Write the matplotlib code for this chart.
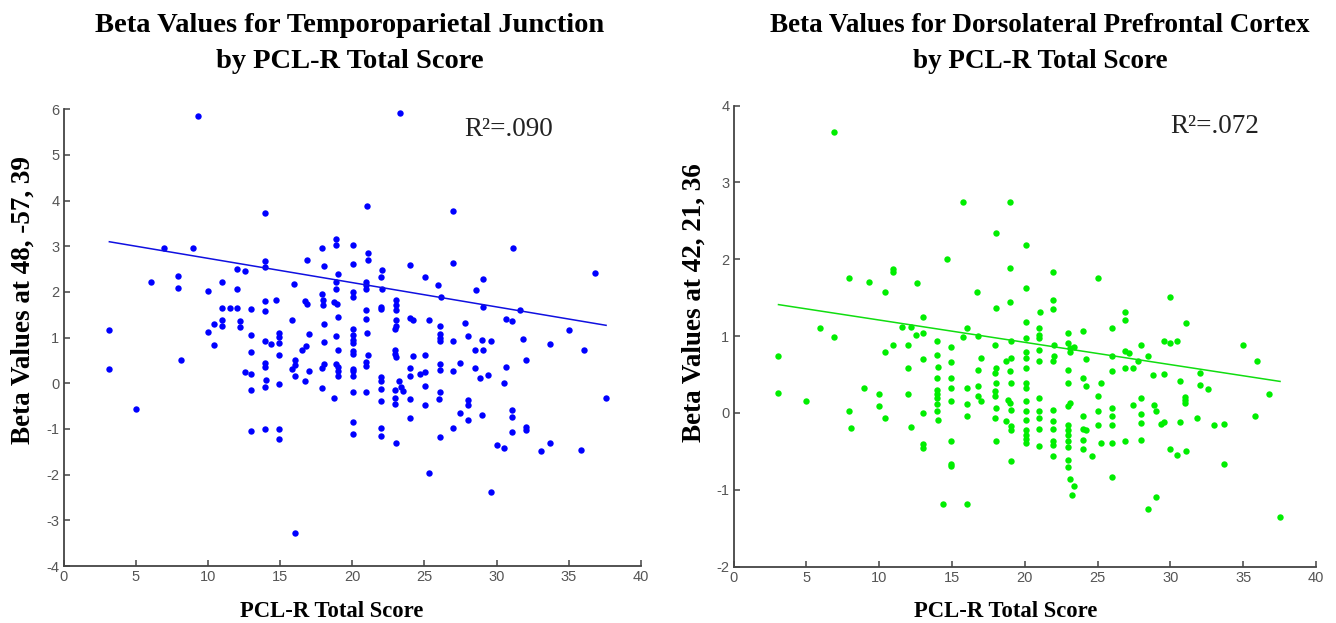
import numpy as np
import matplotlib
matplotlib.use("Agg")
import matplotlib.pyplot as plt

plt.rcParams["axes.unicode_minus"] = False

# --- data ----------------------------------------------------------------
# left panel: temporoparietal junction (48, -57, 39)
tpj_x = [9.32, 13.96, 6.93, 8.95, 6.03, 7.94, 7.94, 10.0, 10.98, 12.0, 12.58, 12.0,
         13.96, 13.96, 13.96, 13.96, 14.68, 13.0, 10.98, 11.54, 12.0, 10.45, 10.98,
         10.98, 12.2, 12.2, 15.83, 15.99, 16.84, 17.93, 18.02, 18.9, 18.9, 20.05,
         20.05, 19.01, 18.9, 18.9, 20.05, 20.05, 16.75, 16.84, 17.93, 17.97, 17.97,
         18.76, 18.94, 19.01, 18.02, 3.17, 20.05,
         3.17, 5.01, 8.12, 9.97, 10.43, 13.0, 13.0, 12.55, 13.0, 13.0, 13.0, 13.96,
         14.4, 13.96, 13.96, 14.05, 13.96, 13.96, 14.95, 14.95, 14.95, 14.95, 14.95,
         14.95, 14.95, 16.0, 16.0, 15.83, 16.0, 16.0, 16.52, 16.82, 17.0, 16.75, 17.0,
         18.02, 18.02, 17.93, 17.93, 18.76, 18.9, 19.01, 18.9, 19.01, 19.01, 19.01,
         20.05, 20.05, 20.05, 20.05, 20.05, 20.05, 20.05, 20.05, 20.05, 20.05, 20.05,
         23.28, 21.0, 26.97, 31.12, 36.84, 21.08, 21.08, 24.02, 22.06, 21.96, 20.97,
         20.97, 20.97, 22.08, 25.05, 27.01, 25.97, 26.16, 29.02, 28.56, 29.02, 31.62,
         23.05, 23.05, 23.05, 21.96, 21.96, 20.97, 20.97, 23.05, 23.05, 23.97, 24.2,
         25.31, 26.05, 27.82, 30.66, 31.03, 35.0,
         21.0, 21.08, 20.97, 20.97, 20.97, 22.93, 22.93, 22.93, 23.05, 24.2, 25.06,
         26.05, 26.05, 26.05, 26.97, 28.01, 29.0, 29.58, 28.5, 29.05, 31.86, 33.71,
         36.04, 37.58, 22.0, 22.0, 22.0, 22.0, 22.0, 22.0, 22.93, 22.93, 22.93, 23.21,
         23.4, 23.51, 23.0, 24.02, 24.02, 24.02, 24.02, 24.66, 25.06, 25.06, 25.06,
         25.31, 26.05, 26.05, 26.05, 25.98, 26.05, 26.97, 27.43, 26.97, 27.43, 28.01,
         28.01, 28.01, 28.5, 28.86, 29.39, 29.0, 29.58, 30.02, 30.48, 30.48, 30.66,
         31.03, 31.03, 31.03, 32.05, 32.05, 32.05, 33.06, 33.71, 35.85]
tpj_y = [5.86, 3.74, 2.97, 2.97, 2.21, 2.35, 2.09, 2.03, 2.21, 2.50, 2.47, 2.06,
         2.68, 2.55, 1.80, 1.58, 1.83, 1.62, 1.65, 1.65, 1.65, 1.30, 1.39,
         1.25, 1.36, 1.23, 1.38, 2.18, 2.71, 2.97, 2.56, 3.16, 3.03, 3.03,
         2.62, 2.39, 2.21, 2.06, 2.0, 1.89, 1.80, 1.74, 1.95, 1.83, 1.71,
         1.77, 1.74, 1.45, 1.29, 1.17, 1.19,
         0.32, -0.56, 0.51, 1.12, 0.83, 1.06, 0.68, 0.24, 0.21, -0.14, -1.05, 0.92,
         0.87, 0.44, 0.35, 0.07, -0.09, -1.0, 1.10, 1.01, 0.88, 0.62, -0.01,
         -1.0, -1.23, 0.50, 0.40, 0.31, 0.15, -3.28, 0.72, 0.81, 0.28, 0.04, 1.09,
         0.90, 0.42, 0.33, -0.11, -0.32, 1.03, 0.73, 0.42, 0.35, 0.26, 0.17,
         1.05, 0.94, 0.88, 0.70, 0.65, 0.32, 0.26, 0.16, -0.20, -0.84, -1.11,
         5.91, 3.88, 3.77, 2.97, 2.42, 2.86, 2.71, 2.59, 2.48, 2.33, 2.22,
         2.15, 2.07, 2.06, 2.33, 2.64, 2.15, 1.89, 2.29, 2.04, 1.68, 1.60,
         1.82, 1.71, 1.60, 1.68, 1.63, 1.60, 1.41, 1.38, 1.25, 1.44, 1.39,
         1.39, 1.25, 1.33, 1.41, 1.36, 1.17,
         1.10, 0.61, 0.46, 0.39, -0.20, 1.18, 0.72, 0.65, 0.58, 0.59, 0.62,
         1.07, 1.00, 0.92, 0.92, 1.03, 0.94, 0.92, 0.74, 0.74, 0.98, 0.86,
         0.74, -0.32, 0.13, 0.06, -0.12, -0.38, -0.97, -1.15, -0.15, -0.32, -0.45, 0.06,
         -0.09, -0.16, -1.30, 0.33, 0.15, -0.35, -0.76, 0.21, 0.24, -0.05, -0.47,
         -1.96, 0.43, 0.29, -0.20, -0.35, -1.17, 0.28, 0.45, -0.97, -0.64, -0.36,
         -0.47, -0.80, 0.33, 0.12, 0.18, -0.70, -2.37, -1.35, -1.41, 0.01, 0.35,
         -0.59, -0.73, -1.06, 0.51, -0.95, -1.02, -1.49, -1.30, -1.46]
tpj_fit_x = [3.17, 37.58]
tpj_fit_y = [3.10, 1.27]
tpj_r2 = "R\u00b2=.090"

# right panel: dorsolateral prefrontal cortex (42, 21, 36)
dlpfc_x = [6.89, 15.79, 18.97, 18.05, 20.07, 14.67, 18.97, 7.92, 9.30, 10.96, 10.96,
           12.57, 10.41, 16.74, 20.07, 18.97, 18.05, 20.07, 13.03, 5.97, 11.54, 12.18,
           16.0,
           6.89, 3.09, 3.09, 4.98, 7.92, 8.09, 8.96, 10.0, 10.0, 10.41, 10.41, 10.96,
           12.0, 12.0, 12.0, 12.18, 12.55, 13.03, 13.03, 13.03, 13.03, 13.03, 13.95,
           13.95, 14.02, 13.95, 13.95, 13.95, 13.95, 13.95, 13.95, 14.07, 14.41, 14.94,
           14.94, 14.94, 14.94, 14.94, 14.94, 14.94, 14.94, 15.79, 16.0, 16.0, 16.0,
           16.0, 16.78, 17.01, 16.78, 16.78, 16.78, 17.01, 17.98, 18.05, 17.98, 18.05,
           17.98, 17.98, 18.05, 17.93, 18.05, 18.74, 19.04, 18.97, 19.04, 18.86, 18.97,
           19.04, 18.74, 19.04, 19.04, 19.08, 19.08, 20.07, 20.07, 20.07, 20.07, 20.07,
           20.07, 20.07, 20.07, 20.07, 20.07, 20.07, 20.07, 20.07,
           21.94, 25.0, 21.94, 21.03, 21.94, 29.99, 26.9,
           20.96, 20.96, 20.96, 20.96, 20.96, 20.96, 20.96, 20.96, 20.96, 20.96,
           21.99, 21.99, 21.94, 21.94, 21.94, 21.94, 21.94, 21.94, 21.94,
           23.98, 22.95, 22.95, 23.13, 23.41, 23.13, 22.95, 22.95, 23.13, 22.95, 22.95,
           22.95, 22.95, 22.95, 22.95, 22.95, 22.95, 23.13, 23.41, 23.25,
           24.18, 23.98, 24.18, 23.98, 23.98, 24.18, 23.98, 23.98, 24.64,
           25.0, 25.0, 25.0, 25.26, 25.26, 26.01, 26.01, 26.01, 26.01, 26.01, 26.01,
           26.01, 26.01, 26.9, 26.9, 27.13, 26.9, 27.4, 27.4, 26.9, 27.75, 27.98, 27.98,
           27.98, 27.98, 27.98, 28.43, 28.8, 28.89, 29.0, 29.37, 29.53, 29.0, 28.43,
           29.53, 29.53, 29.99, 30.45, 29.99, 30.45, 31.09, 31.09, 30.63, 30.97, 30.97,
           30.97, 30.63, 31.82, 32.05, 32.05, 32.57, 33.03, 33.69, 33.69, 34.97, 35.98,
           35.82, 36.8, 37.53]
dlpfc_y = [3.66, 2.75, 2.75, 2.34, 2.19, 2.0, 1.89, 1.75, 1.71, 1.87, 1.84,
           1.69, 1.57, 1.58, 1.63, 1.44, 1.37, 1.19, 1.25, 1.10, 1.12, 1.12,
           1.10,
           0.99, 0.74, 0.26, 0.16, 0.03, -0.20, 0.33, 0.25, 0.09, -0.07, 0.79, 0.89,
           0.89, 0.58, 0.25, -0.18, 1.02, 1.04, 0.70, 0.0, -0.40, -0.46, 0.93,
           0.76, 0.60, 0.46, 0.30, 0.25, 0.19, 0.11, 0.03, -0.09, -1.18, 0.86,
           0.66, 0.46, 0.32, 0.16, -0.37, -0.66, -0.69, 0.99, 0.32, 0.12, -0.04,
           -1.18, 1.0, 0.72, 0.56, 0.35, 0.22, 0.16, 0.89, 0.58, 0.52, 0.39,
           0.28, 0.22, 0.07, -0.06, -0.37, 0.67, 0.72, 0.54, 0.39, 0.17, 0.13,
           0.04, -0.11, -0.17, -0.22, -0.63, 0.94, 0.97, 0.79, 0.72, 0.58, 0.39,
           0.32, 0.15, 0.02, -0.09, -0.22, -0.29, -0.34, -0.39,
           1.84, 1.75, 1.47, 1.32, 1.35, 1.51, 1.31,
           1.10, 1.02, 0.97, 0.82, 0.67, 0.20, 0.02, -0.07, -0.21, -0.43,
           0.89, 0.74, 0.67, 0.04, -0.10, -0.21, -0.37, -0.42, -0.56,
           1.07, 1.04, 0.91, 0.84, 0.86, 0.79, 0.56, 0.39, 0.13, 0.09, -0.16,
           -0.22, -0.29, -0.36, -0.45, -0.61, -0.70, -0.86, -0.95, -1.07,
           0.70, 0.46, 0.35, -0.04, -0.21, -0.22, -0.35, -0.47, -0.56,
           0.22, 0.03, -0.16, 0.39, -0.39, 1.10, 0.74, 0.54, 0.07, -0.04, -0.16,
           -0.39, -0.84, 1.21, 0.80, 0.78, 0.58, 0.58, 0.10, -0.37, 0.68, 0.89, 0.20,
           -0.02, -0.13, -0.35, 0.74, 0.49, 0.10, 0.02, -0.14, -0.12, -1.09, -1.25,
           0.51, 0.93, 0.91, 0.94, -0.47, -0.55, -0.49, 1.17, 0.42, 0.21, 0.17,
           0.13, -0.12, -0.06, 0.52, 0.36, 0.31, -0.16, -0.14, -0.66, 0.89, 0.67,
           -0.04, 0.24, -1.35]
dlpfc_fit_x = [3.09, 37.53]
dlpfc_fit_y = [1.41, 0.41]
dlpfc_r2 = "R\u00b2=.072"

W, H = 1336, 623
fig = plt.figure(figsize=(W / 100, H / 100), dpi=100)
serif = "Liberation Serif"
sans = "Liberation Sans"


def style_axes(ax, yticks):
    ax.set_xlim(0, 40)
    ax.set_xticks(np.arange(0, 41, 5))
    ax.set_yticks(yticks)
    ax.set_ylim(yticks[0], yticks[-1])
    for s in ("top", "right"):
        ax.spines[s].set_visible(False)
    for s in ("left", "bottom"):
        ax.spines[s].set_color("#444444")
        ax.spines[s].set_linewidth(1.3)
    ax.tick_params(direction="in", length=4, width=1.1, color="#444444",
                   labelcolor="#555555", labelsize=10.5, pad=3)
    for lab in ax.get_xticklabels() + ax.get_yticklabels():
        lab.set_fontfamily(sans)


# left panel
ax1 = fig.add_axes([63.6 / W, 1 - 566 / H, (641 - 63.6) / W, (566 - 109.3) / H])
ax1.plot(tpj_x, tpj_y, "o", color="#0000ff", markersize=4.6, markeredgewidth=0)
ax1.plot(tpj_fit_x, tpj_fit_y, "-", color="#1010e0", linewidth=1.1)
style_axes(ax1, np.arange(-4, 7, 1))
ax1.text(27.78, 5.42, tpj_r2, fontsize=19.5, family=serif, color="#222222",
         va="baseline", ha="left")

# right panel
ax2 = fig.add_axes([733.5 / W, 1 - 566.5 / H, (1316 - 733.5) / W, (566.5 - 105.7) / H])
ax2.plot(dlpfc_x, dlpfc_y, "o", color="#00ee00", markersize=4.6, markeredgewidth=0)
ax2.plot(dlpfc_fit_x, dlpfc_fit_y, "-", color="#10dd10", linewidth=1.1)
style_axes(ax2, np.arange(-2, 5, 1))
ax2.text(29.98, 3.65, dlpfc_r2, fontsize=19.5, family=serif, color="#222222",
         va="baseline", ha="left")

# titles and labels
tkw = dict(family=serif, fontweight="bold", ha="center", va="baseline")
fig.text(350 / W, 1 - 31.7 / H, "Beta Values for Temporoparietal Junction",
         fontsize=20.5, **tkw)
fig.text(350 / W, 1 - 68 / H, "by PCL-R Total Score", fontsize=20.5, **tkw)
fig.text(1040 / W, 1 - 31.7 / H, "Beta Values for Dorsolateral Prefrontal Cortex",
         fontsize=19.5, **tkw)
fig.text(1040 / W, 1 - 68 / H, "by PCL-R Total Score", fontsize=19.5, **tkw)

lkw = dict(family=serif, fontweight="bold")
fig.text(332 / W, 1 - 616.7 / H, "PCL-R Total Score", ha="center", va="baseline",
         fontsize=16.3, **lkw)
fig.text(1006 / W, 1 - 616.7 / H, "PCL-R Total Score", ha="center", va="baseline",
         fontsize=16.3, **lkw)
fig.text(23 / W, 1 - 300 / H, "Beta Values at 48, -57, 39", rotation=90,
         ha="center", va="center", fontsize=19.5, **lkw)
fig.text(694 / W, 1 - 303 / H, "Beta Values at 42, 21, 36", rotation=90,
         ha="center", va="center", fontsize=19.5, **lkw)

fig.savefig("out.png", dpi=100)
